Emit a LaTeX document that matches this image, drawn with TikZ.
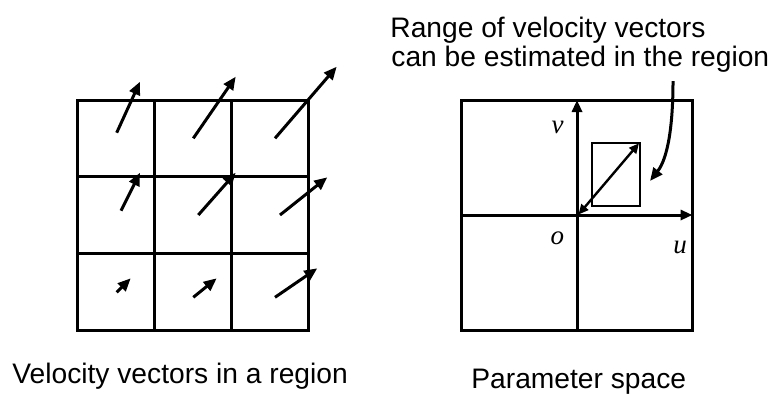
\documentclass[tikz,border=0pt]{standalone}
\usepackage{fontspec}
\setmainfont{Liberation Sans}
\newfontfamily\varserif{Liberation Serif}
\usetikzlibrary{arrows.meta}
\begin{document}
\begin{tikzpicture}[x=0.5pt,y=-0.5pt,
  frame/.style={line width=1.5pt},
  vec/.style={line width=1.5pt,-{Triangle[length=6.5pt,width=5.5pt]}},
  axis/.style={line width=1.5pt,-{Triangle[length=6pt,width=5pt]}},
  rangearrow/.style={line width=1.2pt,{Triangle[length=5pt,width=4.5pt]}-{Triangle[length=5pt,width=4.5pt]}},
  lbl/.style={font=\fontsize{14.1pt}{17pt}\selectfont,inner sep=0pt,anchor=base west},
  var/.style={font=\fontsize{13.5pt}{16pt}\selectfont\varserif\itshape,inner sep=0pt,anchor=base}]
\useasboundingbox (0,0) rectangle (779,397);
% left grid
\draw[frame] (77.5,100) rectangle (308.5,330);
\draw[frame] (154.5,100) -- (154.5,330) (231.5,100) -- (231.5,330)
  (77.5,176.7) -- (308.5,176.7) (77.5,253.3) -- (308.5,253.3);
% velocity vectors
\coordinate (a1s) at (116.7,132.7); \coordinate (a1e) at (140,81.7);
\coordinate (a2s) at (193.3,138.3); \coordinate (a2e) at (235.7,76.7);
\coordinate (a3s) at (275,138.3);   \coordinate (a3e) at (336.7,66.7);
\coordinate (b1s) at (121,210.7);   \coordinate (b1e) at (140,172.7);
\coordinate (b2s) at (198.3,215);   \coordinate (b2e) at (235.7,172.7);
\coordinate (b3s) at (280,215);     \coordinate (b3e) at (327.3,177.3);
\coordinate (c1s) at (116.7,292.3); \coordinate (c1e) at (130.7,278.3);
\coordinate (c2s) at (193.3,297.3); \coordinate (c2e) at (216.7,278.3);
\coordinate (c3s) at (275,297.3);   \coordinate (c3e) at (317.3,268.3);
\foreach \v in {a1,a2,a3,b1,b2,b3,c1,c2,c3}
  \draw[vec] (\v s) -- (\v e);
% parameter space
\draw[frame] (461.5,100) rectangle (692.5,330);
\coordinate (o) at (577,215);
\coordinate (vtop) at (577,100);
\coordinate (ubot) at (577,330);
\coordinate (uleft) at (461.5,215);
\coordinate (uright) at (692.5,215);
\draw[axis] (ubot) -- (vtop);
\draw[axis] (uleft) -- (uright);
\draw[line width=1pt] (591.7,142.7) rectangle (640,206);
\coordinate (rtip) at (639,143.3);
\coordinate (otip) at (578.5,214.5);
\draw[rangearrow] (otip) -- (rtip);
\node[var] (lv) at (557.7,133) {v};
\node[var] (lo) at (557.3,244) {o};
\node[var] (lu) at (680,253) {u};
% annotation
\node[lbl] (t1) at (390,37) {Range of velocity vectors};
\node[lbl] (t2) at (391,66.5) {can be estimated in the region};
\coordinate (cs) at (673,81);
\coordinate (ce) at (650,181);
\draw[vec] (cs) .. controls (673,125) and (668,158) .. (ce);
% captions
\node[lbl] (cap1) at (12,383) {Velocity vectors in a region};
\node[lbl] (cap2) at (471,388) {Parameter space};
\end{tikzpicture}
\end{document}
